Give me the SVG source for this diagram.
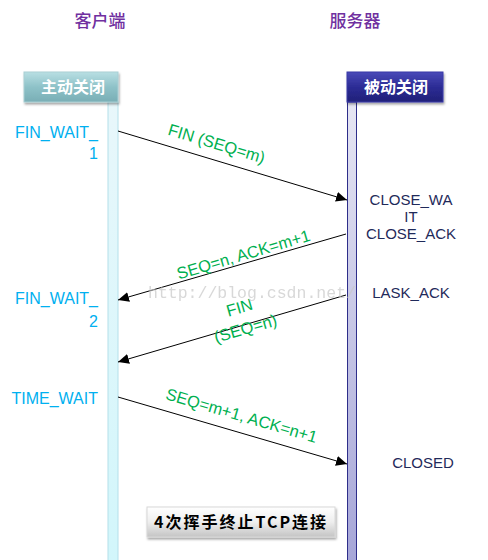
<svg xmlns="http://www.w3.org/2000/svg" width="488" height="560" viewBox="0 0 488 560">
<defs>
<style>
.title{font-family:"Noto Sans CJK SC","Liberation Sans",sans-serif;font-size:17px;font-weight:500;fill:#7030a0;text-anchor:middle}
.hdr{font-family:"Noto Sans CJK SC",serif;font-size:16px;font-weight:bold;fill:#ffffff;text-anchor:middle}
.cst{font-family:"Liberation Sans","DejaVu Sans",sans-serif;font-size:16px;fill:#00b0f0;text-anchor:end}
.sst{font-family:"Liberation Sans","DejaVu Sans",sans-serif;font-size:15px;fill:#1f2a5a;text-anchor:middle}
.msg{font-family:"Liberation Sans","DejaVu Sans",sans-serif;font-size:16.5px;fill:#00b050;text-anchor:middle}
.wm{font-family:"Liberation Mono","DejaVu Sans Mono",monospace;font-size:16.5px;fill:#c8c8c8;opacity:0.7}
.line{stroke:#000;stroke-width:1;fill:none;marker-end:url(#ah)}
</style>
<marker id="ah" viewBox="0 0 11 10" refX="11" refY="5" markerWidth="11" markerHeight="10" markerUnits="userSpaceOnUse" orient="auto">
<path d="M0,0 L11,5 L0,10 z" fill="#000"/>
</marker>
<linearGradient id="gL" x1="0" y1="0" x2="0" y2="1">
<stop offset="0" stop-color="#b9dfe3"/><stop offset="0.5" stop-color="#8ec2c8"/><stop offset="1" stop-color="#79aeb5"/>
</linearGradient>
<linearGradient id="gR" x1="0" y1="0" x2="0" y2="1">
<stop offset="0" stop-color="#4a4ab8"/><stop offset="0.5" stop-color="#2c2c95"/><stop offset="1" stop-color="#202078"/>
</linearGradient>
<linearGradient id="gLL" x1="0" y1="0" x2="0" y2="1">
<stop offset="0" stop-color="#e8f7fb"/><stop offset="1" stop-color="#d2f6fb"/>
</linearGradient>
<linearGradient id="gRL" x1="0" y1="0" x2="0" y2="1">
<stop offset="0" stop-color="#e6e6f3"/><stop offset="1" stop-color="#a6a6d8"/>
</linearGradient>
<linearGradient id="gB" x1="0" y1="0" x2="0" y2="1">
<stop offset="0" stop-color="#ffffff"/><stop offset="0.5" stop-color="#eeeeee"/><stop offset="1" stop-color="#c4c4c4"/>
</linearGradient>
<filter id="sh" x="-10%" y="-20%" width="120%" height="160%">
<feDropShadow dx="1" dy="2" stdDeviation="1.2" flood-color="#000" flood-opacity="0.35"/>
</filter>
</defs>
<rect width="488" height="560" fill="#ffffff"/>

<g id="client">
<text class="title" x="100" y="27">客户端</text>
<rect x="108" y="102" width="10" height="460" fill="url(#gLL)" stroke="#b4e0ea" stroke-width="1"/>
<rect x="24" y="72" width="94" height="30" fill="url(#gL)" stroke="#a9cfd4" stroke-width="1" filter="url(#sh)"/>
<text class="hdr" x="73" y="93">主动关闭</text>
</g>

<g id="server">
<text class="title" x="355" y="27">服务器</text>
<rect x="347.5" y="102" width="9" height="460" fill="url(#gRL)" stroke="#2e2e8a" stroke-width="1"/>
<rect x="347" y="72" width="96" height="30" fill="url(#gR)" stroke="#3a3aa8" stroke-width="1" filter="url(#sh)"/>
<text class="hdr" x="396" y="93">被动关闭</text>
</g>

<g id="states">
<text class="cst" x="98" y="138">FIN_WAIT_</text>
<text class="cst" x="98" y="159">1</text>
<text class="cst" x="98" y="304">FIN_WAIT_</text>
<text class="cst" x="98" y="327">2</text>
<text class="cst" x="98" y="404">TIME_WAIT</text>
<text class="sst" x="411" y="205">CLOSE_WA</text>
<text class="sst" x="411" y="222">IT</text>
<text class="sst" x="411" y="239">CLOSE_ACK</text>
<text class="sst" x="411" y="298">LASK_ACK</text>
<text class="sst" x="423" y="468">CLOSED</text>
</g>

<g id="connectors">
<line class="line" x1="118" y1="131" x2="347" y2="200"/>
<line class="line" x1="346" y1="234" x2="118" y2="300"/>
<line class="line" x1="346" y1="295" x2="118" y2="362"/>
<line class="line" x1="118" y1="397" x2="347" y2="464"/>
</g>

<g id="labels">
<text class="msg" transform="translate(215,149) rotate(16.8)">FIN (SEQ=m)</text>
<text class="msg" transform="translate(245,260) rotate(-16.5)">SEQ=n, ACK=m+1</text>
<text class="msg" transform="translate(241,313) rotate(-16)">FIN</text>
<text class="msg" transform="translate(247,334) rotate(-16)">(SEQ=n)</text>
<text class="msg" transform="translate(240,421) rotate(16.3)">SEQ=m+1, ACK=n+1</text>
</g>

<g id="caption">
<rect x="147" y="507" width="188" height="30" fill="url(#gB)" stroke="#d8d8d8" stroke-width="1" filter="url(#sh)"/>
<text x="241" y="528" font-family="Noto Sans CJK SC,Liberation Sans,sans-serif" font-size="16" font-weight="bold" letter-spacing="2" fill="#000" text-anchor="middle">4次挥手终止TCP连接</text>
</g>

<text class="wm" x="148" y="298">http://blog.csdn.net/</text>
</svg>
